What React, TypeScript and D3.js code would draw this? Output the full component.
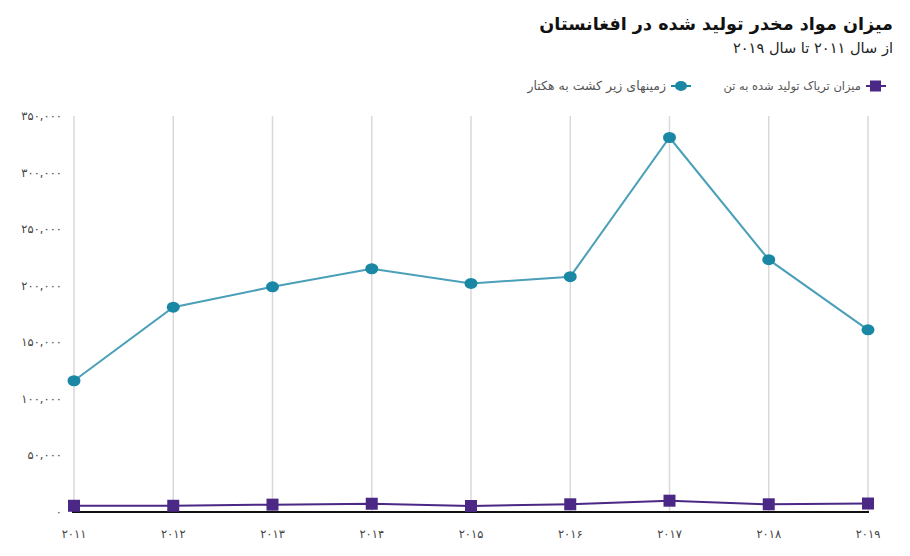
import React from "react";
import * as d3 from "d3";

const years = [2011, 2012, 2013, 2014, 2015, 2016, 2017, 2018, 2019];
const cultivation = [116000, 181000, 199000, 215000, 202000, 208000, 331000, 223000, 161000];
const opium = [5500, 5500, 6500, 7300, 5300, 6800, 10000, 6800, 7500];
const yTicks = [0, 50000, 100000, 150000, 200000, 250000, 300000, 350000];

const title = "میزان مواد مخدر تولید شده در افغانستان";
const subtitle = "از سال ۲۰۱۱ تا سال ۲۰۱۹";
const legendOpium = "میزان تریاک تولید شده به تن";
const legendCult = "زمینهای زیر کشت به هکتار";

const fa = "۰۱۲۳۴۵۶۷۸۹";
const toFa = (s: string) => s.replace(/[0-9]/g, (d) => fa[+d]);
const fmt = (v: number) => (v === 0 ? "۰" : toFa(d3.format(",")(v)));

export default function App() {
  const W = 910, H = 556;
  const x = d3.scalePoint<number>().domain(years).range([74, 868]);
  const y = d3.scaleLinear().domain([0, 350000]).range([512, 116]);
  const lineC = d3.line<number>().x((_, i) => x(years[i])!).y((d) => y(d));
  const font = "DejaVu Sans, sans-serif";
  const teal = "#1a87a5";
  const purple = "#4b2885";
  return (
    <svg width={W} height={H} style={{ position: "absolute", left: 0, top: 0 }} fontFamily={font}>
      <rect width={W} height={H} fill="#fff" />
      <text x={893} y={30} textAnchor="start" direction="rtl" fontSize={17.6} fontWeight="bold" fill="#111">{title}</text>
      <text x={893} y={53} textAnchor="start" direction="rtl" fontSize={14.6} fill="#222">{subtitle}</text>
      {/* legend */}
      <line x1={866} x2={886} y1={86} y2={86} stroke={purple} strokeWidth={2} />
      <rect x={870} y={80.5} width={11} height={11} fill={purple} />
      <text x={861} y={90} textAnchor="start" direction="rtl" fontSize={11.5} fill="#555">{legendOpium}</text>
      <line x1={671} x2={691} y1={86} y2={86} stroke={teal} strokeWidth={2} />
      <ellipse cx={681} cy={86} rx={6} ry={5} fill={teal} />
      <text x={666} y={90} textAnchor="start" direction="rtl" fontSize={12.5} fill="#555">{legendCult}</text>
      {/* grid */}
      {years.map((yr) => (
        <line key={yr} x1={x(yr)} x2={x(yr)} y1={116} y2={512} stroke="#d9d9d9" strokeWidth={1.5} />
      ))}
      {/* y labels */}
      {yTicks.map((t) => (
        <text key={t} x={62} y={y(t) + 4} textAnchor="end" fontSize={11.5} fill="#444">{fmt(t)}</text>
      ))}
      {/* x labels */}
      {years.map((yr) => (
        <text key={yr} x={x(yr)} y={538} textAnchor="middle" fontSize={11.5} fill="#444">{toFa(String(yr))}</text>
      ))}
      <line x1={72} x2={869} y1={512} y2={512} stroke="#111" strokeWidth={2} />
      {/* cultivation */}
      <path d={lineC(cultivation) || ""} fill="none" stroke="#4aa0b8" strokeWidth={2} />
      {cultivation.map((v, i) => (
        <ellipse key={i} cx={x(years[i])} cy={y(v)} rx={6.5} ry={5.5} fill={teal} />
      ))}
      {/* opium */}
      <path d={lineC(opium) || ""} fill="none" stroke={purple} strokeWidth={2} />
      {opium.map((v, i) => (
        <rect key={i} x={x(years[i])! - 6} y={y(v) - 6} width={12} height={12} fill={purple} />
      ))}
    </svg>
  );
}
